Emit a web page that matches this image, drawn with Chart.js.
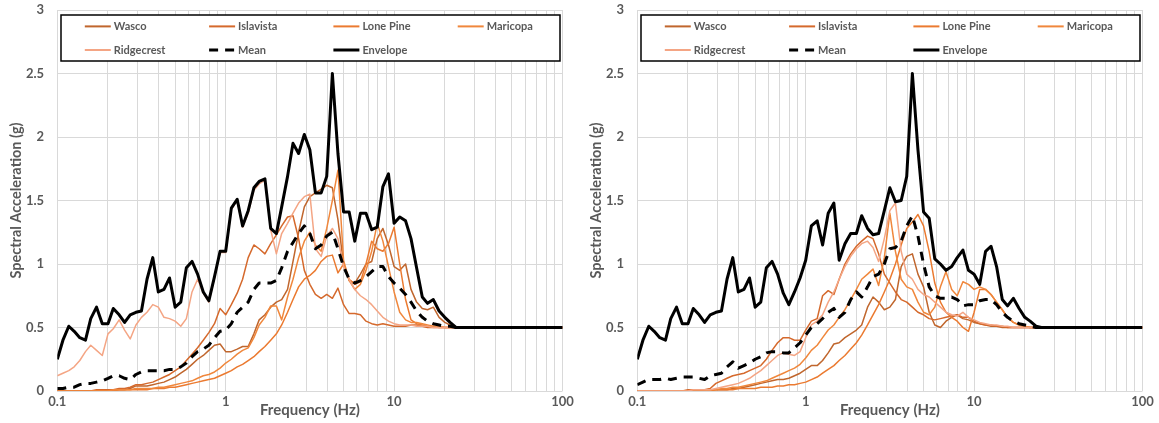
<!DOCTYPE html>
<html><head><meta charset="utf-8">
<script src="https://cdn.jsdelivr.net/npm/chart.js@4.4.0/dist/chart.umd.min.js"></script>
<style>
html,body{margin:0;padding:0;background:#fff;overflow:hidden;}
#wrap{position:relative;width:1159px;height:423px;}
canvas{position:absolute;top:0;}
</style></head>
<body><div id="wrap">
<canvas id="c1" width="580" height="423" style="left:0"></canvas>
<canvas id="c2" width="579" height="423" style="left:580px"></canvas>
</div>
<script>
const FREQ = [0.1,0.108,0.117,0.126,0.136,0.147,0.158,0.171,0.185,0.2,0.215,0.233,0.251,0.271,0.293,0.316,0.341,0.369,0.398,0.43,0.464,0.501,0.541,0.584,0.631,0.681,0.736,0.794,0.858,0.926,1,1.08,1.17,1.26,1.36,1.47,1.58,1.71,1.85,2,2.15,2.33,2.51,2.71,2.93,3.16,3.41,3.69,3.98,4.3,4.64,5.01,5.41,5.84,6.31,6.81,7.36,7.94,8.58,9.26,10,10.8,11.7,12.6,13.6,14.7,15.8,17.1,18.5,20,21.5,23.3,25.1,100];
const TICK_VALUES = [0.1,0.2,0.3,0.4,0.5,0.6,0.7,0.8,0.9,1,2,3,4,5,6,7,8,9,10,20,30,40,50,60,70,80,90,100];
const X_LABELS = [0.1,1,10,100];
const NAMES = ['Wasco','Islavista','Lone Pine','Maricopa','Ridgecrest','Mean','Envelope'];
const COLORS = ['#C0662D','#D5692C','#EB7A30','#F0873C','#F4A584','#000000','#000000'];

// ---- Left chart ----
const L_WAS = [0,0,0,0,0,0,0,0,0,0.01, 0.01,0.01,0.01,0.02,0.04,0.04,0.04,0.05,0.06,0.07, 0.09,0.11,0.14,0.17,0.21,0.25,0.28,0.32,0.36,0.37, 0.31,0.31,0.33,0.35,0.35,0.45,0.56,0.60,0.66,0.70, 0.72,0.80,1.02,1.25,1.45,1.53,1.56,1.59,1.62,1.60, 1.35,1.00,0.87,0.85,0.92,1.00,1.02,1.20,1.28,1.15, 0.98,0.95,1.00,0.80,0.70,0.65,0.64,0.66,0.58,0.54, 0.52,0.50,0.50,0.50];
const L_ISL = [0,0,0,0,0,0,0,0.01,0.01,0.01, 0.01,0.02,0.02,0.03,0.05,0.05,0.06,0.07,0.09,0.11, 0.13,0.16,0.19,0.24,0.29,0.34,0.40,0.46,0.53,0.65, 0.60,0.68,0.77,0.88,1.05,1.15,1.12,1.08,1.16,1.23, 1.30,1.37,1.38,1.20,0.95,0.84,0.76,0.73,0.76,0.73, 0.81,0.68,0.61,0.61,0.60,0.55,0.53,0.52,0.53,0.52, 0.51,0.51,0.51,0.52,0.52,0.51,0.50,0.50,0.50,0.50, 0.50,0.50,0.50,0.50];
const L_LP = [0,0,0,0,0,0,0,0,0,0, 0,0.01,0.01,0.01,0.01,0.01,0.01,0.02,0.02,0.02, 0.03,0.03,0.04,0.05,0.06,0.07,0.08,0.09,0.10,0.12, 0.14,0.16,0.19,0.21,0.24,0.27,0.31,0.35,0.40,0.45, 0.52,0.62,0.72,0.82,0.88,0.91,0.95,1.02,1.06,1.07, 0.93,1.00,0.88,0.84,0.86,1.00,1.18,1.12,1.10,1.16, 1.29,1.00,0.72,0.56,0.53,0.52,0.51,0.51,0.50,0.50, 0.50,0.50,0.50,0.50];
const L_MAR = [0,0,0,0,0,0,0,0,0,0, 0.01,0.01,0.01,0.01,0.02,0.02,0.02,0.02,0.03,0.03, 0.04,0.05,0.06,0.07,0.08,0.10,0.12,0.13,0.15,0.18, 0.22,0.25,0.29,0.32,0.34,0.42,0.52,0.58,0.67,0.67, 0.56,0.74,0.88,1.05,1.18,1.25,1.15,1.10,1.28,1.50, 1.74,1.03,0.87,0.80,0.84,0.95,1.10,1.32,1.18,0.98, 0.78,0.62,0.56,0.54,0.54,0.53,0.52,0.51,0.51,0.50, 0.50,0.50,0.50,0.50];
const L_RID = [0.12,0.14,0.16,0.19,0.24,0.31,0.36,0.32,0.28,0.45, 0.49,0.56,0.48,0.41,0.52,0.58,0.62,0.68,0.66,0.58, 0.57,0.55,0.51,0.57,0.78,0.88,0.77,0.70,0.89,1.09, 1.09,1.43,1.50,1.29,1.40,1.58,1.63,1.66,1.27,1.08, 1.24,1.32,1.40,1.48,1.53,1.55,1.12,1.06,1.22,1.28, 1.20,0.98,0.88,0.80,0.75,0.72,0.68,0.63,0.58,0.55, 0.53,0.52,0.52,0.52,0.51,0.51,0.51,0.50,0.50,0.50, 0.50,0.50,0.50,0.50];
const L_MEAN = [0.02,0.02,0.03,0.03,0.05,0.06,0.06,0.07,0.08,0.10, 0.12,0.12,0.10,0.09,0.13,0.15,0.16,0.16,0.16,0.16, 0.17,0.17,0.19,0.22,0.27,0.31,0.33,0.36,0.42,0.47, 0.48,0.53,0.62,0.66,0.70,0.80,0.85,0.85,0.85,0.87, 0.97,1.10,1.17,1.24,1.30,1.24,1.12,1.15,1.22,1.25, 1.12,0.98,0.88,0.85,0.87,0.90,0.94,0.98,0.98,0.90, 0.85,0.81,0.76,0.70,0.63,0.58,0.55,0.53,0.52,0.51, 0.51,0.50,0.50,0.50];
const L_ENV = [0.25,0.40,0.51,0.47,0.42,0.40,0.57,0.66,0.53,0.53, 0.65,0.60,0.54,0.60,0.62,0.63,0.88,1.05,0.78,0.80, 0.89,0.66,0.70,0.97,1.02,0.92,0.78,0.71,0.90,1.10, 1.10,1.44,1.51,1.30,1.42,1.60,1.65,1.67,1.28,1.24, 1.45,1.69,1.95,1.87,2.02,1.90,1.56,1.56,1.69,2.50, 1.87,1.41,1.41,1.18,1.40,1.40,1.27,1.29,1.61,1.71, 1.32,1.37,1.34,1.20,0.97,0.74,0.69,0.72,0.63,0.58, 0.54,0.50,0.50,0.50];

// ---- Right chart ----
const R_WAS = [0,0,0,0,0,0,0,0,0,0, 0,0,0.01,0.01,0.01,0.01,0.01,0.02,0.02,0.03, 0.04,0.05,0.06,0.07,0.08,0.09,0.09,0.10,0.12,0.14, 0.17,0.20,0.20,0.24,0.30,0.37,0.38,0.42,0.45,0.48, 0.52,0.66,0.74,0.70,0.64,0.66,0.72,0.98,1.06,1.08, 0.92,0.82,0.62,0.52,0.50,0.55,0.58,0.60,0.57,0.56, 0.54,0.53,0.52,0.51,0.51,0.50,0.50,0.50,0.50,0.50, 0.50,0.50,0.50,0.50];
const R_ISL = [0,0,0,0,0,0,0,0,0,0.01, 0.01,0.01,0.01,0.02,0.06,0.08,0.10,0.12,0.13,0.14, 0.16,0.18,0.20,0.25,0.32,0.38,0.42,0.42,0.40,0.40, 0.48,0.55,0.57,0.75,0.79,0.76,0.88,1.00,1.08,1.14, 1.18,1.22,1.20,1.08,0.92,0.85,0.78,0.72,0.70,0.66, 0.62,0.60,0.57,0.56,0.57,0.58,0.59,0.60,0.58,0.58, 0.55,0.53,0.52,0.52,0.51,0.51,0.50,0.50,0.50,0.50, 0.50,0.50,0.50,0.50];
const R_LP = [0,0,0,0,0,0,0,0,0,0, 0,0,0,0,0.01,0.01,0.01,0.01,0.02,0.02, 0.02,0.02,0.03,0.03,0.03,0.04,0.04,0.05,0.05,0.06, 0.07,0.09,0.11,0.14,0.17,0.20,0.24,0.28,0.33,0.38, 0.44,0.52,0.60,0.68,0.78,0.88,1.00,1.15,1.28,1.33, 1.39,1.30,1.10,0.85,0.70,0.62,0.58,0.55,0.50,0.47, 0.62,0.80,0.80,0.76,0.70,0.64,0.58,0.54,0.52,0.51, 0.50,0.50,0.50,0.50];
const R_MAR = [0,0,0,0,0,0,0,0,0,0, 0.01,0.01,0.01,0.01,0.01,0.02,0.02,0.03,0.03,0.04, 0.05,0.06,0.07,0.08,0.10,0.12,0.14,0.16,0.18,0.21, 0.26,0.32,0.36,0.42,0.48,0.52,0.58,0.64,0.72,0.80, 0.88,0.92,0.96,0.83,1.05,1.40,1.10,0.88,0.82,0.80, 0.70,0.62,0.60,0.66,0.82,0.94,0.80,0.75,0.86,0.84, 0.80,0.82,0.80,0.76,0.70,0.64,0.58,0.54,0.52,0.51, 0.50,0.50,0.50,0.50];
const R_RID = [0,0,0,0,0,0,0,0,0,0, 0.01,0.01,0.01,0.01,0.02,0.03,0.04,0.05,0.06,0.08, 0.10,0.13,0.16,0.20,0.24,0.28,0.30,0.29,0.28,0.31, 0.42,0.52,0.55,0.60,0.70,0.78,0.88,0.98,1.06,1.12, 1.16,1.18,1.13,1.02,1.20,1.42,1.48,1.10,0.92,0.88, 0.80,0.76,0.74,0.70,0.66,0.62,0.60,0.59,0.62,0.58, 0.56,0.54,0.53,0.52,0.52,0.51,0.51,0.50,0.50,0.50, 0.50,0.50,0.50,0.50];
const R_MEAN = [0.05,0.07,0.09,0.09,0.09,0.10,0.09,0.10,0.11,0.11, 0.11,0.10,0.09,0.12,0.13,0.14,0.19,0.23,0.18,0.20, 0.22,0.25,0.27,0.30,0.31,0.31,0.30,0.30,0.34,0.38, 0.44,0.50,0.53,0.57,0.62,0.65,0.58,0.62,0.72,0.78, 0.74,0.82,0.90,0.92,1.00,1.12,1.13,1.18,1.30,1.38, 1.22,1.00,0.82,0.75,0.73,0.73,0.74,0.72,0.67,0.68, 0.68,0.71,0.72,0.72,0.68,0.62,0.58,0.55,0.53,0.52, 0.51,0.50,0.50,0.50];
const R_ENV = [0.25,0.40,0.51,0.47,0.42,0.40,0.57,0.66,0.53,0.53, 0.65,0.60,0.54,0.60,0.62,0.63,0.88,1.05,0.78,0.80, 0.89,0.66,0.70,0.97,1.02,0.92,0.77,0.68,0.78,0.89, 1.03,1.30,1.34,1.15,1.40,1.48,1.03,1.16,1.24,1.24, 1.38,1.28,1.23,1.24,1.42,1.60,1.49,1.50,1.69,2.50, 1.90,1.41,1.36,1.04,1.00,0.95,0.98,1.05,1.11,0.95, 0.92,0.84,1.10,1.14,0.98,0.72,0.67,0.73,0.65,0.58, 0.55,0.51,0.50,0.50];

const FONT = 'Lato, "Open Sans", sans-serif';
const GRAY = '#595959';

const boxLegend = {
  id: 'boxLegend',
  afterDatasetsDraw(chart) {
    const ctx = chart.ctx;
    const L = 61, T = 15, R = 560, B = 61;
    ctx.save();
    ctx.fillStyle = '#fff';
    ctx.fillRect(L, T, R - L, B - T);
    ctx.strokeStyle = '#000';
    ctx.lineWidth = 1.5;
    ctx.setLineDash([]);
    ctx.strokeRect(L, T, R - L, B - T);
    ctx.font = 'bold 11px ' + FONT;
    ctx.textBaseline = 'middle';
    ctx.textAlign = 'left';
    chart.data.datasets.forEach((ds, i) => {
      const col = i % 4, row = Math.floor(i / 4);
      const x0 = 84.8 + col * 124.3;
      const y = row ? 50 : 26.4;
      ctx.beginPath();
      ctx.strokeStyle = ds.borderColor;
      ctx.lineWidth = ds.legendWidth;
      ctx.setLineDash(ds.borderDash || []);
      ctx.moveTo(x0, y);
      ctx.lineTo(x0 + 26, y);
      ctx.stroke();
      ctx.setLineDash([]);
      ctx.fillStyle = GRAY;
      ctx.fillText(ds.label, x0 + 29, y + 0.5);
    });
    ctx.restore();
  }
};

function makeChart(id, width, seriesList) {
  const datasets = seriesList.map((vals, i) => {
    const isMean = i === 5, isEnv = i === 6;
    return {
      label: NAMES[i],
      data: FREQ.map((f, j) => ({x: f, y: vals[j]})),
      borderColor: COLORS[i],
      borderWidth: (isMean || isEnv) ? 3 : 1.5,
      legendWidth: (isMean || isEnv) ? 3 : 2,
      borderDash: isMean ? [9, 7] : undefined,
      borderJoinStyle: 'round',
      borderCapStyle: 'butt',
      pointRadius: 0,
      fill: false,
      tension: 0,
      order: 6 - i
    };
  });
  return new Chart(document.getElementById(id), {
    type: 'line',
    data: {datasets},
    plugins: [boxLegend],
    options: {
      responsive: false,
      animation: false,
      devicePixelRatio: 1,
      layout: {padding: {left: 0, right: width - 562.5, top: 0, bottom: 0}},
      plugins: {legend: {display: false}, tooltip: {enabled: false}},
      scales: {
        x: {
          type: 'logarithmic',
          min: 0.1, max: 100,
          afterBuildTicks: (s) => { s.ticks = TICK_VALUES.map(v => ({value: v})); },
          afterFit: (s) => { s.height = 32; },
          grid: {color: '#d9d9d9', lineWidth: 1, drawTicks: false},
          border: {display: false},
          ticks: {
            autoSkip: false, maxRotation: 0, padding: 3,
            color: GRAY, font: {family: FONT, size: 13, weight: 'bold'},
            callback: (v) => X_LABELS.includes(v) ? String(v) : ''
          },
          title: {display: true, text: 'Frequency (Hz)', color: GRAY,
            font: {family: FONT, size: 15, weight: 'bold'}, padding: {top: 0, bottom: 3.5}}
        },
        y: {
          min: 0, max: 3,
          afterFit: (s) => { s.width = 57.3; },
          grid: {color: '#d9d9d9', lineWidth: 1, drawTicks: true, tickLength: 11, tickColor: 'rgba(0,0,0,0)'},
          border: {display: false},
          ticks: {stepSize: 0.5, padding: 2.2, color: GRAY,
            font: {family: FONT, size: 13, weight: 'bold'},
            callback: (v) => String(v)},
          title: {display: true, text: 'Spectral Acceleration (g)', color: GRAY,
            font: {family: FONT, size: 14.5, weight: 'bold'}, padding: {top: 7.3, bottom: 0}}
        }
      }
    }
  });
}

makeChart('c1', 580, [L_WAS, L_ISL, L_LP, L_MAR, L_RID, L_MEAN, L_ENV]);
makeChart('c2', 579, [R_WAS, R_ISL, R_LP, R_MAR, R_RID, R_MEAN, R_ENV]);
</script>
</body></html>
